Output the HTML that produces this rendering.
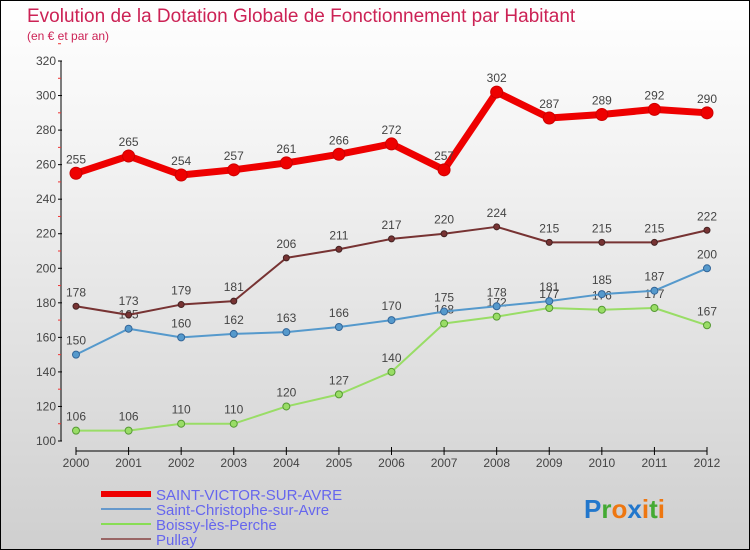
<!DOCTYPE html>
<html><head><meta charset="utf-8"><style>
body{margin:0}
#c{width:748px;height:548px;border:1px solid #000;background:linear-gradient(#fff,#f4f4f4 25%,#cfcfcf);position:relative;font-family:"Liberation Sans",sans-serif;overflow:hidden}
</style></head><body>
<div id="c">
<svg id="s" width="748" height="548"></svg>
</div>
<script>
const years=[2000,2001,2002,2003,2004,2005,2006,2007,2008,2009,2010,2011,2012];
const stVictor=[255,265,254,257,261,266,272,257,302,287,289,292,290];
const stChristophe=[150,165,160,162,163,166,170,175,178,181,185,187,200];
const boissy=[106,106,110,110,120,127,140,168,172,177,176,177,167];
const pullay=[178,173,179,181,206,211,217,220,224,215,215,215,222];
const yTicks=[100,120,140,160,180,200,220,240,260,280,300,320];
const NS='http://www.w3.org/2000/svg';
const s=document.getElementById('s');
const X=i=>75+i*(706-75)/12;
const Y=v=>440-(v-100)*380/220;
function el(t,a,p){const e=document.createElementNS(NS,t);for(const k in a)e.setAttribute(k,a[k]);(p||s).appendChild(e);return e;}
function tx(x,y,str,a){const e=el('text',Object.assign({x:x,y:y},a));e.textContent=str;return e;}
let t=tx(26,21,'Evolution de la Dotation Globale de Fonctionnement par Habitant',{fill:'#cc2255','font-size':19});

t=tx(26,39,'(en € et par an)',{fill:'#cc2255','font-size':12});

// axes
let ax=el('line',{x1:60,y1:60,x2:60,y2:440,stroke:'#000'});

ax=el('line',{x1:75,y1:450,x2:706,y2:450,stroke:'#000'});

yTicks.forEach(v=>{el('line',{x1:57,y1:Y(v),x2:61,y2:Y(v),stroke:'#000'});
el('line',{x1:57,y1:Y(v+10),x2:60,y2:Y(v+10),stroke:'#e33'});
const l=tx(55,Y(v)+4,v,{fill:'#444','font-size':12,'text-anchor':'end'});
});
years.forEach((y,i)=>{el('line',{x1:X(i),y1:446,x2:X(i),y2:454,stroke:'#000'});
const l=tx(X(i),466,y,{fill:'#444','font-size':12,'text-anchor':'middle'});
});
function series(d,color,w,r,name,dark){
const g=el('g',{});
el('polyline',{points:d.map((v,i)=>X(i)+','+Y(v)).join(' '),fill:'none',stroke:color,'stroke-width':w,'stroke-linejoin':'round'},g);
d.forEach((v,i)=>{const c=el('circle',{cx:X(i),cy:Y(v),r:r,fill:color,stroke:dark,'stroke-width':1},g);

tx(X(i),Y(v)-10,v,{fill:'#444','font-size':12,'text-anchor':'middle'},g);});}
series(boissy,'#99dd66',2,3.5,'boissy-series','#559933');
series(stChristophe,'#5599cc',2,3.5,'st-christophe-series','#336699');
series(pullay,'#773333',2,3,'pullay-series','#442222');
series(stVictor,'#ee0000',7,6,'st-victor-series','#cc0000');
const leg=[['SAINT-VICTOR-SUR-AVRE','#ee0000',6],['Saint-Christophe-sur-Avre','#6699cc',2],['Boissy-lès-Perche','#88dd55',2],['Pullay','#996666',2]];
leg.forEach((l,i)=>{const g=el('g',{});
const y=493+i*15;el('line',{x1:100,y1:y,x2:150,y2:y,stroke:l[1],'stroke-width':l[2]},g);
tx(155,y+6,l[0],{fill:'#6666ee','font-size':15},g);});
const lg=el('text',{x:583,y:517,'font-size':26,'font-weight':'bold'});
[['P','#2277cc'],['r','#44aa33'],['o','#ee7711'],['x','#2277cc'],['i','#ee7711'],['t','#44aa33'],['i','#ee7711']].forEach(c=>{const sp=el('tspan',{fill:c[1]},lg);sp.textContent=c[0];});
</script>
</body></html>
